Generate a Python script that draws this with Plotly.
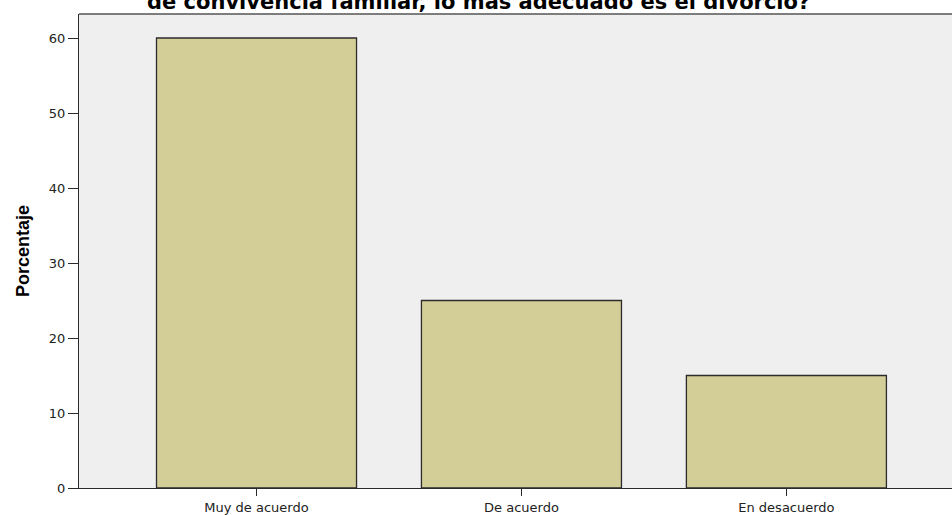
import plotly.graph_objects as go

categories = ["Muy de acuerdo", "De acuerdo", "En desacuerdo"]
porcentaje = [60, 25, 15]
y_ticks = [0, 10, 20, 30, 40, 50, 60]

BAR = "#D3CE98"
EDGE = "#2b2b2b"
TICK_FONT = dict(family="DejaVu Sans, Verdana", size=13, color="#222222")

fig = go.Figure(go.Bar(
    x=categories, y=porcentaje,
    marker=dict(color=BAR, line=dict(color=EDGE, width=1.3)),
    width=0.755,
))

# only the last line of the title is visible in the reference (the rest is off the top)
fig.add_annotation(
    text="<b>de convivencia familiar, lo más adecuado es el divorcio?</b>",
    x=(478 - 79) / 873, y=1, xref="paper", yref="paper",
    xanchor="center", yanchor="bottom", yshift=-2, showarrow=False,
    font=dict(family="DejaVu Sans", size=21, color="#000000"),
)

fig.update_layout(
    width=952, height=515,
    paper_bgcolor="#FFFFFF", plot_bgcolor="#EFEFEF",
    showlegend=False,
    margin=dict(l=79, r=0, t=14, b=24),
    xaxis=dict(
        range=[-0.67, 2.625], showgrid=False, zeroline=False,
        showline=True, linecolor=EDGE, linewidth=1.3,
        ticks="outside", ticklen=7, tickcolor=EDGE, tickwidth=1.2,
        tickfont=TICK_FONT,
    ),
    yaxis=dict(
        range=[0, 63.2], tickvals=y_ticks, showgrid=False, zeroline=False,
        showline=True, linecolor=EDGE, linewidth=1.3,
        ticks="outside", ticklen=10, tickcolor=EDGE, tickwidth=1.2,
        tickfont=TICK_FONT,
        title=dict(text="<b>Porcentaje</b>", standoff=14,
                   font=dict(family="Liberation Sans, Arial", size=18, color="#000000")),
    ),
    shapes=[dict(type="line", xref="paper", yref="paper", x0=0, x1=1, y0=1, y1=1,
                 line=dict(color="#555555", width=1.5))],
)

fig.write_html("out.html", config={"displayModeBar": False},
               post_script="document.body.style.margin='0';")
